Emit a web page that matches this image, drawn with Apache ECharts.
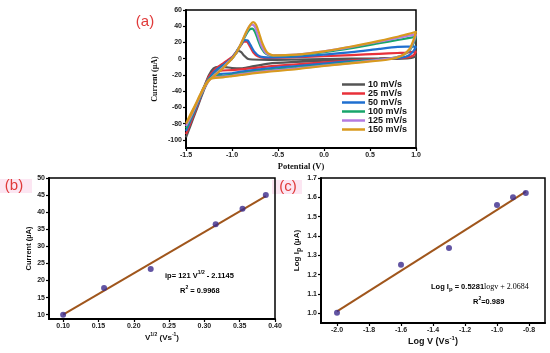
<!DOCTYPE html>
<html><head><meta charset="utf-8">
<script src="https://cdn.jsdelivr.net/npm/echarts@6/dist/echarts.min.js"></script>
<style>html,body{margin:0;padding:0;background:#fff}#c{width:550px;height:353px}</style>
</head><body><div id="c"></div>
<script>
// ---------- Panel (a): cyclic voltammograms ----------
const scanRates = ['10 mV/s', '25 mV/s', '50 mV/s', '100 mV/s', '125 mV/s', '150 mV/s'];
const cvColors = ['#555555', '#e8313a', '#1f6fd0', '#17a56b', '#b57be0', '#d89a1e'];

const cv10 = [[-1.5,-97],[-1.45,-82],[-1.4,-67],[-1.35,-52],[-1.3,-37],[-1.25,-25],[-1.2,-16],[-1.15,-11],[-1.1,-7],[-1.05,-3],[-1.0,1],[-0.96,6],[-0.93,9.5],[-0.9,8],[-0.87,4],[-0.83,0],[-0.78,-1],[-0.6,-1.5],[-0.3,-1],[0,-0.5],[0.3,0],[0.6,0.5],[0.8,1],[0.9,1.5],[1.0,3],
  [0.95,1],[0.85,0],[0.6,-0.5],[0.3,-1.5],[0,-2.5],[-0.3,-4],[-0.6,-6],[-0.8,-10],[-0.9,-12],[-1.0,-11.5],[-1.1,-10],[-1.15,-10],[-1.2,-12],[-1.25,-20],[-1.3,-34],[-1.35,-50],[-1.4,-65],[-1.45,-81],[-1.5,-97]];
const cv25 = [[-1.5,-93],[-1.45,-79],[-1.4,-65],[-1.35,-50],[-1.3,-36],[-1.25,-24],[-1.2,-15],[-1.15,-10],[-1.1,-6],[-1.05,-2],[-1.0,2],[-0.95,9],[-0.9,17],[-0.87,21],[-0.84,21],[-0.81,16],[-0.77,8],[-0.72,3],[-0.65,1],[-0.4,1.5],[0,3],[0.3,4.5],[0.6,6],[0.8,7],[0.9,7.5],[1.0,9],
  [0.97,4],[0.9,1.5],[0.7,0],[0.4,-1.5],[0,-4.5],[-0.3,-7],[-0.6,-9.5],[-0.8,-12],[-1.0,-14],[-1.1,-14.5],[-1.2,-16],[-1.25,-22],[-1.3,-34],[-1.35,-49],[-1.4,-63],[-1.45,-78],[-1.5,-93]];
const cv50 = [[-1.5,-89],[-1.45,-76],[-1.4,-63],[-1.35,-49],[-1.3,-36],[-1.25,-25],[-1.2,-17],[-1.15,-12],[-1.1,-8],[-1.05,-4],[-1.0,1],[-0.95,9],[-0.9,18],[-0.86,23],[-0.83,22.5],[-0.8,17],[-0.76,9],[-0.7,3],[-0.6,1.5],[-0.3,2.5],[0,5],[0.3,8],[0.6,12],[0.8,14.5],[0.9,15],[1.0,15],
  [0.97,9],[0.92,4],[0.85,1.5],[0.6,-1],[0.3,-3],[0,-6],[-0.3,-9],[-0.6,-12],[-0.9,-16],[-1.0,-18],[-1.1,-18.5],[-1.2,-20],[-1.25,-24],[-1.3,-34],[-1.35,-48],[-1.4,-61],[-1.45,-75],[-1.5,-89]];
const cv100 = [[-1.5,-86],[-1.45,-74],[-1.4,-61],[-1.35,-48],[-1.3,-36],[-1.25,-26],[-1.2,-20],[-1.15,-15],[-1.1,-10],[-1.05,-5],[-1.0,0],[-0.95,8],[-0.9,18],[-0.85,29],[-0.81,36],[-0.78,37],[-0.75,33],[-0.72,24],[-0.68,13],[-0.63,6],[-0.55,3.5],[-0.3,4.5],[0,8],[0.3,13],[0.6,19],[0.8,23],[0.9,25],[1.0,27],
  [0.97,18],[0.93,10],[0.85,4],[0.7,0],[0.4,-3],[0,-8],[-0.3,-11],[-0.6,-14],[-0.9,-18],[-1.0,-20],[-1.1,-21],[-1.2,-22],[-1.25,-25],[-1.3,-34],[-1.35,-47],[-1.4,-60],[-1.45,-73],[-1.5,-86]];
const cv125 = [[-1.5,-83],[-1.45,-72],[-1.4,-60],[-1.35,-47],[-1.3,-36],[-1.25,-27],[-1.2,-21],[-1.15,-16],[-1.1,-11],[-1.05,-5],[-1.0,0],[-0.95,8],[-0.9,19],[-0.85,31],[-0.81,40],[-0.78,42],[-0.75,39],[-0.72,29],[-0.68,16],[-0.63,7],[-0.55,4],[-0.3,5],[0,9],[0.3,14.5],[0.6,21],[0.8,25.5],[0.9,28],[1.0,30],
  [0.97,20],[0.93,11],[0.85,4],[0.7,0],[0.4,-4],[0,-8.5],[-0.3,-12],[-0.6,-15],[-0.9,-19],[-1.0,-21],[-1.1,-22],[-1.2,-23],[-1.25,-26],[-1.3,-34],[-1.35,-46],[-1.4,-58],[-1.45,-70],[-1.5,-83]];
const cv150 = [[-1.5,-80],[-1.45,-70],[-1.4,-58],[-1.35,-46],[-1.3,-35],[-1.25,-27],[-1.2,-22],[-1.15,-17],[-1.1,-12],[-1.05,-6],[-1.0,0],[-0.95,8],[-0.9,19],[-0.85,32],[-0.8,42],[-0.77,45],[-0.74,42],[-0.71,33],[-0.67,19],[-0.62,8],[-0.55,4],[-0.3,5],[0,9],[0.3,15],[0.6,22],[0.8,27],[0.9,30],[1.0,33],
  [0.97,22],[0.93,12],[0.85,4],[0.7,-1],[0.4,-4.5],[0,-9],[-0.3,-13],[-0.6,-16],[-0.9,-20],[-1.0,-21.5],[-1.1,-23],[-1.2,-24],[-1.25,-26],[-1.3,-34],[-1.35,-45],[-1.4,-57],[-1.45,-68],[-1.5,-80]];
const cvCurves = [cv10, cv25, cv50, cv100, cv125, cv150];

const ticksAx = [-1.5, -1.0, -0.5, 0, 0.5, 1.0];
const ticksAy = [-100, -80, -60, -40, -20, 0, 20, 40, 60];

// ---------- Panel (b): peak current vs V^1/2 ----------
const sqrtV = [0.100, 0.158, 0.224, 0.316, 0.354, 0.387];
const peakI = [10.0, 17.8, 23.4, 36.5, 41.0, 45.0];
const fitB = [[0.100, 10.0], [0.387, 44.7]];
const ticksBx = [0.10, 0.15, 0.20, 0.25, 0.30, 0.35, 0.40];
const ticksBy = [10, 15, 20, 25, 30, 35, 40, 45, 50];

// ---------- Panel (c): log Ip vs log V ----------
const logV = [-2.0, -1.6, -1.3, -1.0, -0.9, -0.82];
const logIp = [1.003, 1.251, 1.338, 1.560, 1.600, 1.622];
const fitC = [[-2.0, 1.01], [-0.82, 1.63]];
const ticksCx = [-2.0, -1.8, -1.6, -1.4, -1.2, -1.0, -0.8];
const ticksCy = [1.0, 1.1, 1.2, 1.3, 1.4, 1.5, 1.6, 1.7];

const SANS = 'Liberation Sans, Arial, sans-serif';
const SERIF = 'Liberation Serif, Times New Roman, serif';
const markerColor = '#3b2a8c';
const fitColor = '#a0561c';

function axis(gi, min, max, ticks, fmt, name, nameGap, nameStyle) {
  return {
    type: 'value', gridIndex: gi, min: min, max: max,
    axisLine: { show: true, onZero: false, lineStyle: { color: '#000', width: 2 } },
    axisTick: { show: true, inside: false, length: 3, customValues: ticks, lineStyle: { color: '#000', width: 1.2 } },
    axisLabel: { show: true, customValues: ticks, formatter: fmt, fontSize: 7, fontWeight: 'bold', fontFamily: SANS, color: '#222', margin: 4 },
    splitLine: { show: false },
    name: name, nameLocation: 'middle', nameGap: nameGap,
    nameTextStyle: nameStyle
  };
}

const chart = echarts.init(document.getElementById('c'), null, { renderer: 'canvas' });

const supRich = (fs, fam) => ({
  n: { fontSize: fs, fontWeight: 'bold', fontFamily: fam, color: '#111', lineHeight: fs + 4 },
  s: { fontSize: Math.round(fs * 0.62), fontWeight: 'bold', fontFamily: fam, color: '#111', lineHeight: fs + 4, verticalAlign: 'top' }
});

const series = [];
cvCurves.forEach((d, i) => {
  series.push({
    name: scanRates[i], type: 'line', xAxisIndex: 0, yAxisIndex: 0, data: d,
    showSymbol: false, symbol: 'none', smooth: 0.25,
    lineStyle: { color: cvColors[i], width: 2.2 }, itemStyle: { color: cvColors[i] }, z: 2 + i
  });
});
series.push({ type: 'line', xAxisIndex: 1, yAxisIndex: 1, data: fitB, symbol: 'none', lineStyle: { color: fitColor, width: 2 }, z: 2 });
series.push({ type: 'scatter', xAxisIndex: 1, yAxisIndex: 1, data: sqrtV.map((v, i) => [v, peakI[i]]), symbolSize: 6, itemStyle: { color: markerColor }, z: 3 });
series.push({ type: 'line', xAxisIndex: 2, yAxisIndex: 2, data: fitC, symbol: 'none', lineStyle: { color: fitColor, width: 2 }, z: 2 });
series.push({ type: 'scatter', xAxisIndex: 2, yAxisIndex: 2, data: logV.map((v, i) => [v, logIp[i]]), symbolSize: 6, itemStyle: { color: markerColor }, z: 3 });

const f1 = v => v.toFixed(1), f2 = v => v.toFixed(2), f0 = v => String(Math.round(v));

chart.setOption({
  animation: false,
  backgroundColor: '#fff',
  grid: [
    { left: 186, top: 10, width: 230, height: 138, show: true, borderColor: '#000', borderWidth: 1.5 },
    { left: 49, top: 178, width: 226, height: 141, show: true, borderColor: '#000', borderWidth: 1.5 },
    { left: 321, top: 178, width: 224, height: 145, show: true, borderColor: '#000', borderWidth: 1.5 }
  ],
  xAxis: [
    axis(0, -1.5, 1.0, ticksAx, f1, 'Potential (V)', 14, { fontSize: 8.5, fontWeight: 'bold', fontFamily: SERIF, color: '#111' }),
    axis(1, 0.08, 0.40, ticksBx, f2, '{n|V}{s|1/2}{n| (Vs}{s|-1}{n|)}', 13, { rich: supRich(8, SANS) }),
    axis(2, -2.1, -0.7, ticksCx, f1, '{n|Log V (Vs}{s|-1}{n|)}', 12, { rich: supRich(9, SANS) })
  ],
  yAxis: [
    axis(0, -110, 60, ticksAy, f0, 'Current (µA)', 27, { fontSize: 8, fontWeight: 'bold', fontFamily: SERIF, color: '#111' }),
    axis(1, 8.75, 50, ticksBy, f0, 'Current (µA)', 16, { fontSize: 7.5, fontWeight: 'bold', fontFamily: SANS, color: '#111' }),
    axis(2, 0.95, 1.7, ticksCy, f1, '{n|Log I}{p|p}{n| (µA)}', 18, { rich: Object.assign(supRich(8, SANS), { p: { fontSize: 7, fontWeight: 'bold', fontFamily: SANS, color: '#111', lineHeight: 12, verticalAlign: 'bottom' } }) })
  ],
  legend: {
    data: scanRates, orient: 'vertical', left: 342, top: 80, padding: 0,
    icon: 'rect', itemWidth: 23, itemHeight: 2.5, itemGap: 0,
    textStyle: { fontSize: 9, fontWeight: 'bold', fontFamily: SANS, color: '#111', lineHeight: 9, padding: [0, 0, 0, -2] },
    selectedMode: false
  },
  graphic: [
    { type: 'rect', shape: { x: 0, y: 179, width: 32, height: 14 }, style: { fill: '#fce6f2' }, z: -1 },
    { type: 'rect', shape: { x: 272, y: 180, width: 30, height: 14 }, style: { fill: '#fce6f2' }, z: -1 },
    { type: 'text', style: { x: 145, y: 22, text: '(a)', fill: '#e03a3a', font: '15px ' + SANS, textAlign: 'center', textVerticalAlign: 'middle' } },
    { type: 'text', style: { x: 14, y: 186, text: '(b)', fill: '#e03a3a', font: '15px ' + SANS, textAlign: 'center', textVerticalAlign: 'middle' } },
    { type: 'text', style: { x: 288, y: 187, text: '(c)', fill: '#e03a3a', font: '15px ' + SANS, textAlign: 'center', textVerticalAlign: 'middle' } },
    { type: 'text', z: 10, style: { x: 165, y: 276, text: '{n|ip= 121 V}{s|1/2}{n| - 2.1145}', rich: supRich(7.5, SANS), textAlign: 'left', textVerticalAlign: 'middle' } },
    { type: 'text', z: 10, style: { x: 180, y: 291, text: '{n|R}{s|2}{n| = 0.9968}', rich: supRich(7.5, SANS), textAlign: 'left', textVerticalAlign: 'middle' } },
    { type: 'text', z: 10, style: { x: 431, y: 287, text: '{n|Log I}{p|p}{n| = 0.5281}{t|logv + 2.0684}', rich: Object.assign(supRich(7.5, SANS), { p: { fontSize: 6, fontWeight: 'bold', fontFamily: SANS, color: '#111', lineHeight: 11.5, verticalAlign: 'bottom' }, t: { fontSize: 8, fontFamily: SERIF, color: '#111', lineHeight: 11.5 } }), textAlign: 'left', textVerticalAlign: 'middle' } },
    { type: 'text', z: 10, style: { x: 473, y: 302, text: '{n|R}{s|2}{n|=0.989}', rich: supRich(7.5, SANS), textAlign: 'left', textVerticalAlign: 'middle' } }
  ],
  series: series
});
</script></body></html>
